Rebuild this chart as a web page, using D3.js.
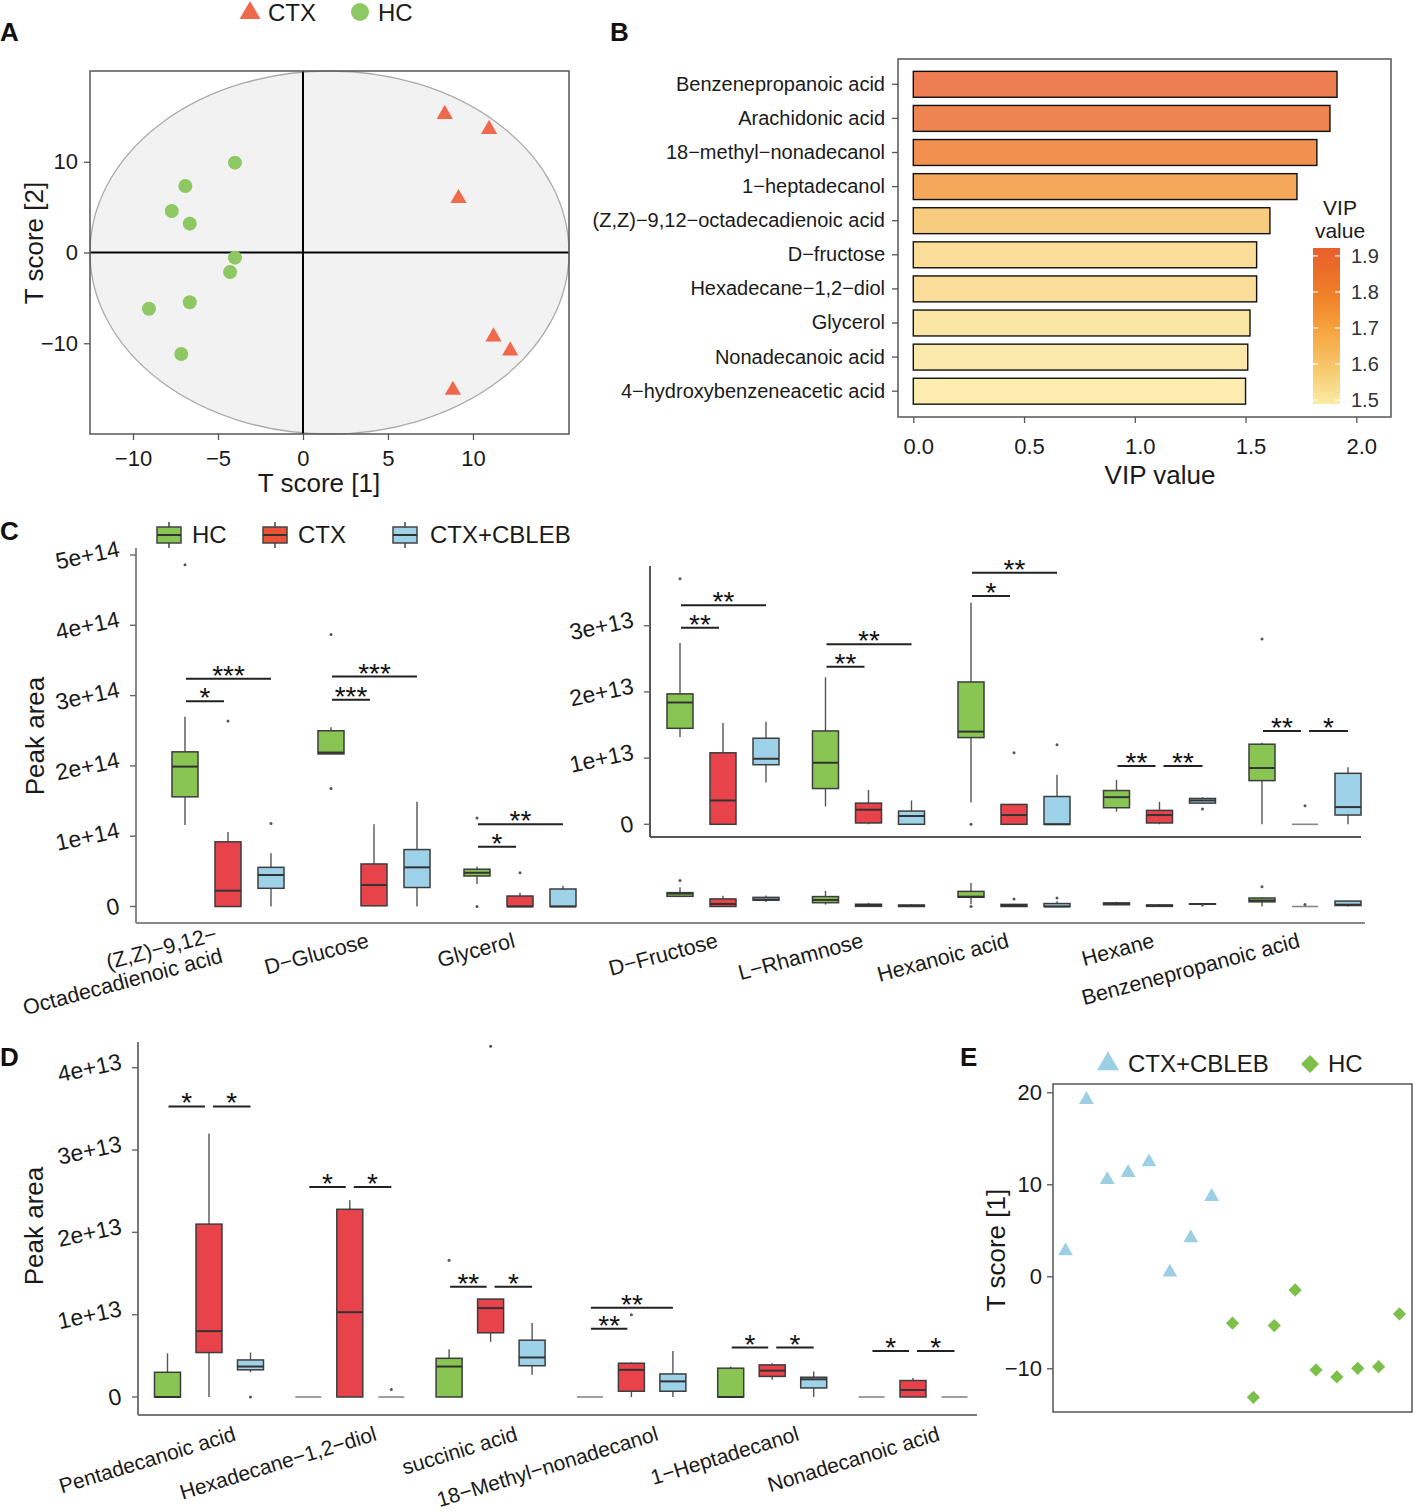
<!DOCTYPE html>
<html><head><meta charset="utf-8">
<script src="https://cdn.jsdelivr.net/npm/d3@7"></script>
<style>
body{margin:0;background:#fff;}
svg{font-family:"Liberation Sans",Arial,Helvetica,sans-serif;}
</style></head><body>
<svg id="chart" width="1414" height="1512"></svg>
<script>
// ---------------- Panel A : score plot ----------------
const aHC_x = [-4.0,-6.92,-7.72,-6.66,-4.0,-4.29,-6.66,-9.06,-7.16];
const aHC_y = [9.9,7.33,4.58,3.18,-0.57,-2.15,-5.49,-6.2,-11.19];
const aCTX_x = [8.34,10.95,9.15,11.21,12.19,8.82];
const aCTX_y = [15.24,13.58,5.97,-9.28,-10.83,-15.16];
const aEllipse = [1.56, 0, 14.09, 20];           // centre x, centre y, radius x, radius y
const aTicksX = [-10,-5,0,5,10];
const aTicksY = [-10,0,10];

// ---------------- Panel B : VIP ----------------
const vipNames = ["Benzenepropanoic acid","Arachidonic acid","18−methyl−nonadecanol","1−heptadecanol",
  "(Z,Z)−9,12−octadecadienoic acid","D−fructose","Hexadecane−1,2−diol","Glycerol","Nonadecanoic acid","4−hydroxybenzeneacetic acid"];
const vipValues = [1.913,1.881,1.822,1.732,1.61,1.55,1.55,1.52,1.51,1.50];
const vipTicks = [0,0.5,1.0,1.5,2.0];
const vipLegendTicks = [1.5,1.6,1.7,1.8,1.9];

// ---------------- Panel C : box plots ----------------
const groups = ["HC","CTX","CTX+CBLEB"];
const cLeftCats = ["(Z,Z)−9,12−\nOctadecadienoic acid","D−Glucose","Glycerol"];
// [lower whisker, Q1, median, Q3, upper whisker]  (x 1e14)
const cLeftHC    = [[1.16,1.56,1.99,2.20,2.70],[2.17,2.17,2.19,2.50,2.55],[0.32,0.434,0.48,0.53,0.566]];
const cLeftCTX   = [[0,0,0.225,0.92,1.06],[0,0.01,0.306,0.605,1.17],[0,0,0,0.149,0.196]];
const cLeftCBLEB = [[0,0.259,0.448,0.557,0.757],[0,0.27,0.557,0.81,1.49],[0,0,0,0.249,0.296]];
const cLeftOutliers = [[0,0,4.86],[0,1,2.64],[0,2,1.18],[1,0,3.87],[1,0,1.68],[2,0,1.26],[2,0,0],[2,1,0.48]];
const cLeftSig = [[0,0,1,2.92,"*"],[0,0,2,3.24,"***"],[1,0,1,2.94,"***"],[1,0,2,3.27,"***"],[2,0,1,0.85,"*"],[2,0,2,1.17,"**"]];
const cLeftTicks = [0,1,2,3,4,5];   // x 1e14

const cRightCats = ["D−Fructose","L−Rhamnose","Hexanoic acid","Hexane","Benzenepropanoic acid"];
// (x 1e13)
const cRightHC    = [[1.32,1.45,1.84,1.97,2.74],[0.27,0.54,0.93,1.41,2.22],[0.33,1.31,1.40,2.15,3.35],[0.19,0.25,0.41,0.51,0.67],[0,0.66,0.85,1.21,1.23]];
const cRightCTX   = [[0,0,0.36,1.08,1.53],[0,0.02,0.22,0.32,0.52],[0,0,0.14,0.30,0.30],[0,0.02,0.14,0.21,0.34],[0,0,0,0,0]];
const cRightCBLEB = [[0.63,0.90,0.99,1.30,1.55],[0,0,0.125,0.20,0.36],[0,0,0,0.42,0.75],[0.32,0.32,0.36,0.39,0.41],[0,0.14,0.26,0.77,0.86]];
const cRightOutliers = [[0,0,3.71],[2,0,0],[2,1,1.08],[2,2,1.20],[3,2,0.23],[4,0,2.80],[4,1,0.28]];
const cRightSig = [[0,0,1,2.97,"**"],[0,0,2,3.31,"**"],[1,0,1,2.38,"**"],[1,0,2,2.72,"**"],[2,0,1,3.45,"*"],[2,0,2,3.80,"**"],
  [3,0,1,0.88,"**"],[3,1,2,0.88,"**"],[4,0,1,1.41,"**"],[4,1,2,1.41,"*"]];
const cInsetTicks = [0,1,2,3];      // x 1e13

// ---------------- Panel D : box plots (x 1e13) ----------------
const dCats = ["Pentadecanoic acid","Hexadecane−1,2−diol","succinic acid","18−Methyl−nonadecanol","1−Heptadecanol","Nonadecanoic acid"];
const dHC    = [[0,0,0,0.30,0.53],[0,0,0,0,0],[0,0,0.37,0.47,0.58],[0,0,0,0,0],[0,0,0,0.35,0.37],[0,0,0,0,0]];
const dCTX   = [[0,0.54,0.80,2.10,3.20],[0,0,1.03,2.28,2.39],[0.67,0.78,1.08,1.19,1.19],[0,0.07,0.33,0.41,0.42],[0.21,0.25,0.32,0.39,0.41],[0,0,0.085,0.20,0.23]];
const dCBLEB = [[0.30,0.33,0.37,0.45,0.54],[0,0,0,0,0],[0.27,0.38,0.48,0.69,0.90],[0,0.07,0.19,0.28,0.56],[0,0.11,0.215,0.24,0.31],[0,0,0,0,0]];
const dOutliers = [[0,2,0],[1,2,0.09],[2,0,1.66],[2,1,4.26],[3,1,1.0]];
const dSig = [[0,0,1,3.53,"*"],[0,1,2,3.53,"*"],[1,0,1,2.55,"*"],[1,1,2,2.55,"*"],[2,0,1,1.34,"**"],[2,1,2,1.34,"*"],
  [3,0,1,0.83,"**"],[3,0,2,1.085,"**"],[4,0,1,0.60,"*"],[4,1,2,0.60,"*"],[5,0,1,0.56,"*"],[5,1,2,0.56,"*"]];
const dTicks = [0,1,2,3,4];

// ---------------- Panel E : score by sample ----------------
const eCBLEB = [2.75,19.2,10.5,11.27,12.43,0.43,4.17,8.66];
const eHC = [-5.1,-13.15,-5.36,-1.49,-10.18,-10.94,-10.0,-9.82,-4.09];
const eTicks = [-10,0,10,20];

// ================= drawing =================
const svg = d3.select("#chart");
const TXT = "#1a1a1a";
const minus = s => String(s).replace("-","−");
const boxFill = {"HC":"#88c553","CTX":"#e8434a","CTX+CBLEB":"#9dd2e8"};

function panelLabel(t,x,y){
  svg.append("text").attr("x",x).attr("y",y).attr("font-size",26).attr("font-weight","bold").attr("fill","#111").text(t);
}
function styleAxis(g, fs, col){
  g.select(".domain").remove();
  g.selectAll(".tick line").attr("stroke",col||"#555").attr("stroke-width",1.3);
  g.selectAll(".tick text").attr("font-size",fs).attr("fill",TXT).attr("font-family","Liberation Sans, Arial, sans-serif");
}

// ---------- A ----------
panelLabel("A",0,41);
const ax = d3.scaleLinear().domain([-12.53,15.65]).range([90,569]);
const ay = d3.scaleLinear().domain([-20,20]).range([434,71]);
const gA = svg.append("g");
gA.append("rect").attr("x",ax.range()[0]).attr("y",ay.range()[1]).attr("width",ax.range()[1]-ax.range()[0])
  .attr("height",ay.range()[0]-ay.range()[1]).attr("fill","#fff");
gA.append("ellipse").attr("cx",ax(aEllipse[0])).attr("cy",ay(aEllipse[1]))
  .attr("rx",ax(aEllipse[0]+aEllipse[2])-ax(aEllipse[0])).attr("ry",ay(aEllipse[1]-aEllipse[3])-ay(aEllipse[1]))
  .attr("fill","#f2f2f2").attr("stroke","#aaa").attr("stroke-width",1.3);
gA.append("line").attr("x1",ax(0)).attr("x2",ax(0)).attr("y1",ay.range()[0]).attr("y2",ay.range()[1]).attr("stroke","#000").attr("stroke-width",2);
gA.append("line").attr("y1",ay(0)).attr("y2",ay(0)).attr("x1",ax.range()[0]).attr("x2",ax.range()[1]).attr("stroke","#000").attr("stroke-width",2);
gA.append("rect").attr("x",ax.range()[0]).attr("y",ay.range()[1]).attr("width",ax.range()[1]-ax.range()[0])
  .attr("height",ay.range()[0]-ay.range()[1]).attr("fill","none").attr("stroke","#555").attr("stroke-width",1.5);
gA.selectAll("circle.hc").data(aHC_x).join("circle").attr("cx",d=>ax(d)).attr("cy",(d,i)=>ay(aHC_y[i])).attr("r",7).attr("fill","#8dc863");
gA.selectAll("path.ctx").data(aCTX_x).join("path").attr("d",d3.symbol(d3.symbolTriangle,115))
  .attr("transform",(d,i)=>`translate(${ax(d)},${ay(aCTX_y[i])})`).attr("fill","#ef6a4c");
const axA = gA.append("g").attr("transform",`translate(0,${ay.range()[0]})`).call(d3.axisBottom(ax).tickValues(aTicksX).tickSize(6).tickPadding(10).tickFormat(minus));
styleAxis(axA,22);
const ayA = gA.append("g").attr("transform",`translate(${ax.range()[0]},0)`).call(d3.axisLeft(ay).tickValues(aTicksY).tickSize(6).tickPadding(6).tickFormat(minus));
styleAxis(ayA,22);
gA.append("text").attr("x",319).attr("y",492).attr("text-anchor","middle").attr("font-size",26).attr("fill",TXT).text("T score [1]");
gA.append("text").attr("transform","translate(43,243) rotate(-90)").attr("text-anchor","middle").attr("font-size",26).attr("fill",TXT).text("T score [2]");
// legend A
gA.append("path").attr("d",d3.symbol(d3.symbolTriangle,190)).attr("transform","translate(250,13)").attr("fill","#ef6a4c");
gA.append("text").attr("x",268).attr("y",21).attr("font-size",24).attr("fill",TXT).text("CTX");
gA.append("circle").attr("cx",360).attr("cy",12).attr("r",9).attr("fill","#8dc863");
gA.append("text").attr("x",378).attr("y",21).attr("font-size",24).attr("fill",TXT).text("HC");

// ---------- B ----------
panelLabel("B",610,41);
const bx = d3.scaleLinear().domain([0,2]).range([913.3,1356.3]);
const by = d3.scaleBand().domain(vipNames).range([67.25,408.25]).paddingInner(0.24).paddingOuter(0.12);
const vipExt = d3.extent(vipValues);
const barExt = [vipExt[0]-0.011, vipExt[1]+0.009];
const vipColor = d3.scaleLinear().domain([1.49,1.6,1.7,1.8,1.92]).range(["#fbeba3","#f7c567","#f5a13c","#ef7d27","#e85f2c"]).clamp(true);
const gB = svg.append("g");
gB.append("rect").attr("x",898).attr("y",59).attr("width",493).attr("height",358).attr("fill","#fff").attr("stroke","#555").attr("stroke-width",1.5);
gB.selectAll("rect.bar").data(vipNames).join("rect").attr("x",bx(0)).attr("y",d=>by(d))
  .attr("width",(d,i)=>bx(vipValues[i])-bx(0)).attr("height",by.bandwidth())
  .attr("fill",(d,i)=>vipColor(vipValues[i])).attr("fill-opacity",0.82).attr("stroke","#111").attr("stroke-width",1.4);
const byAx = gB.append("g").attr("transform","translate(898,0)").call(d3.axisLeft(by).tickSize(6).tickPadding(7));
styleAxis(byAx,20);
const bxAx = gB.append("g").attr("transform","translate(0,417)").call(d3.axisBottom(bx).tickValues(vipTicks).tickSize(6).tickPadding(15).tickFormat(d3.format(".1f")));
styleAxis(bxAx,22);
bxAx.selectAll(".tick text").attr("dx",5);
gB.append("text").attr("x",1160).attr("y",484).attr("text-anchor","middle").attr("font-size",26).attr("fill",TXT).text("VIP value");
// colour bar
const cby = d3.scaleLinear().domain(barExt).range([404,248]);
const defs = svg.append("defs");
const grad = defs.append("linearGradient").attr("id","vipgrad").attr("x1",0).attr("y1",1).attr("x2",0).attr("y2",0);
d3.range(0,1.0001,0.1).forEach(t=>{
  const v = barExt[0]+t*(barExt[1]-barExt[0]);
  grad.append("stop").attr("offset",t).attr("stop-color",vipColor(v));
});
gB.append("rect").attr("x",1313).attr("y",cby(barExt[1])).attr("width",27).attr("height",cby(barExt[0])-cby(barExt[1])).attr("fill","url(#vipgrad)");
vipLegendTicks.forEach(t=>{
  gB.append("line").attr("x1",1313).attr("x2",1318).attr("y1",cby(t)).attr("y2",cby(t)).attr("stroke","#fff").attr("stroke-width",1.2);
  gB.append("line").attr("x1",1335).attr("x2",1340).attr("y1",cby(t)).attr("y2",cby(t)).attr("stroke","#fff").attr("stroke-width",1.2);
  gB.append("text").attr("x",1351).attr("y",cby(t)+7).attr("font-size",20).attr("fill","#333").text(t.toFixed(1));
});
gB.append("text").attr("x",1340).attr("y",215).attr("text-anchor","middle").attr("font-size",21).attr("fill",TXT).text("VIP");
gB.append("text").attr("x",1340).attr("y",238).attr("text-anchor","middle").attr("font-size",21).attr("fill",TXT).text("value");

// ---------- shared box-plot helpers ----------
function drawBoxes(g, cats, xs, off, yFn, statsList, outliers, bw){
  groups.forEach((grp,gi)=>{
    statsList[gi].forEach((s,ci)=>{
      const cx = xs(cats[ci]) + off(grp);
      const [lw,q1,md,q3,uw] = s;
      g.append("line").attr("x1",cx).attr("x2",cx).attr("y1",yFn(uw)).attr("y2",yFn(q3)).attr("stroke","#555").attr("stroke-width",1.4);
      g.append("line").attr("x1",cx).attr("x2",cx).attr("y1",yFn(q1)).attr("y2",yFn(lw)).attr("stroke","#555").attr("stroke-width",1.4);
      if (q3 > q1) {
        g.append("rect").attr("x",cx-bw/2).attr("y",yFn(q3)).attr("width",bw).attr("height",Math.max(0.5,yFn(q1)-yFn(q3)))
          .attr("fill",boxFill[grp]).attr("stroke","#3d3d3d").attr("stroke-width",1.5);
        g.append("line").attr("x1",cx-bw/2).attr("x2",cx+bw/2).attr("y1",yFn(md)).attr("y2",yFn(md)).attr("stroke","#333").attr("stroke-width",2);
      } else {
        g.append("line").attr("x1",cx-bw/2).attr("x2",cx+bw/2).attr("y1",yFn(md)).attr("y2",yFn(md)).attr("stroke","#888").attr("stroke-width",1.6);
      }
    });
  });
  outliers.forEach(([ci,gi,v])=>{
    g.append("circle").attr("cx",xs(cats[ci])+off(groups[gi])).attr("cy",yFn(v)).attr("r",1.5).attr("fill","#555");
  });
}
function drawSig(g, cats, xs, off, yFn, sig){
  sig.forEach(([ci,a,b,v,lab])=>{
    const c = xs(cats[ci]);
    const xa = c + off(groups[a]) + (a===1?4:1);
    const xb = c + off(groups[b]) + (b===1?-4:0);
    const y = yFn(v);
    g.append("line").attr("x1",xa).attr("x2",xb).attr("y1",y).attr("y2",y).attr("stroke","#222").attr("stroke-width",2);
    g.append("text").attr("x",(xa+xb)/2).attr("y",y+6).attr("text-anchor","middle").attr("font-size",28).attr("fill","#111").text(lab);
  });
}
function yTickLabels(g, ticks, yFn, axisX, fmt, fs){
  const ang = 12, rad = ang*Math.PI/180;
  ticks.forEach(t=>{
    g.append("line").attr("x1",axisX-6).attr("x2",axisX).attr("y1",yFn(t)).attr("y2",yFn(t)).attr("stroke","#666").attr("stroke-width",1.4);
    const tx = g.append("text").attr("dy","0.35em").attr("text-anchor","middle").attr("font-size",fs).attr("fill",TXT).text(fmt(t));
    const w = tx.node().getComputedTextLength();
    tx.attr("transform",`translate(${axisX-17-w/2*Math.cos(rad)},${yFn(t)}) rotate(${-ang})`);
  });
}
function xLabels(g, cats, xs, dx, y, angle, fs){
  cats.forEach(c=>{
    const lines = c.split("\n");
    const n = lines.length;
    const t = g.append("text").attr("transform",`translate(${xs(c)+dx},${y}) rotate(${angle})`)
      .attr("text-anchor","end").attr("font-size",fs).attr("fill",TXT);
    lines.forEach((ln,i)=>{
      t.append("tspan").attr("x",-(n-1)*4).attr("y",-(n-1)*8 + i*(fs*1.05)).text(ln);
    });
  });
}
const boxSets = (a,b,c)=>[a,b,c];

// ---------- C ----------
panelLabel("C",0,540);
const gC = svg.append("g");
const cyL = d3.scaleLinear().domain([0,5]).range([906.5,555]);        // x 1e14
const cyIn = d3.scaleLinear().domain([0,3]).range([824.3,625.7]);    // x 1e13
const cxL = d3.scalePoint().domain(cLeftCats).range([228,520]);
const cxR = d3.scalePoint().domain(cRightCats).range([723,1305]);
const cOff = d3.scalePoint().domain(groups).range([-43,43]);
// main axes
gC.append("line").attr("x1",136).attr("x2",136).attr("y1",548).attr("y2",923).attr("stroke","#888").attr("stroke-width",2);
gC.append("line").attr("x1",136).attr("x2",1365).attr("y1",923).attr("y2",923).attr("stroke","#888").attr("stroke-width",2);
yTickLabels(gC, cLeftTicks, cyL, 136, t=>t===0?"0":t+"e+14", 23);
drawBoxes(gC, cLeftCats, cxL, cOff, cyL, boxSets(cLeftHC,cLeftCTX,cLeftCBLEB), cLeftOutliers, 26);
drawBoxes(gC, cRightCats, cxR, cOff, v=>cyL(v/10), boxSets(cRightHC,cRightCTX,cRightCBLEB), cRightOutliers, 26);
drawSig(gC, cLeftCats, cxL, cOff, cyL, cLeftSig);
xLabels(gC, cLeftCats, cxL, -4, 947, -15, 21.5);
xLabels(gC, cRightCats, cxR, -4, 947, -15, 21.5);
// inset
gC.append("line").attr("x1",650).attr("x2",650).attr("y1",566).attr("y2",837).attr("stroke","#555").attr("stroke-width",2);
gC.append("line").attr("x1",650).attr("x2",1361).attr("y1",837).attr("y2",837).attr("stroke","#555").attr("stroke-width",2);
yTickLabels(gC, cInsetTicks, cyIn, 650, t=>t===0?"0":t+"e+13", 23);
drawBoxes(gC, cRightCats, cxR, cOff, cyIn, boxSets(cRightHC,cRightCTX,cRightCBLEB), cRightOutliers, 26);
drawSig(gC, cRightCats, cxR, cOff, cyIn, cRightSig);
gC.append("text").attr("transform","translate(44,736) rotate(-90)").attr("text-anchor","middle").attr("font-size",26).attr("fill",TXT).text("Peak area");
// legend C
[[157,"HC",192],[263,"CTX",298],[393,"CTX+CBLEB",430]].forEach(([x,lab,tx],i)=>{
  const col = i===1 ? "#eb5236" : boxFill[lab];
  gC.append("line").attr("x1",x+12).attr("x2",x+12).attr("y1",522).attr("y2",548).attr("stroke","#444").attr("stroke-width",1.5);
  gC.append("rect").attr("x",x).attr("y",527).attr("width",24).attr("height",16).attr("fill",col).attr("stroke","#444").attr("stroke-width",1.5);
  gC.append("line").attr("x1",x).attr("x2",x+24).attr("y1",535).attr("y2",535).attr("stroke","#333").attr("stroke-width",2);
  gC.append("text").attr("x",tx).attr("y",543).attr("font-size",24).attr("fill",TXT).text(lab);
});

// ---------- D ----------
panelLabel("D",0,1066);
const gD = svg.append("g");
const dy = d3.scaleLinear().domain([0,4]).range([1397,1067.7]);
const dx = d3.scalePoint().domain(dCats).range([209,913]);
const dOff = d3.scalePoint().domain(groups).range([-41.5,41.5]);
gD.append("line").attr("x1",138).attr("x2",138).attr("y1",1042).attr("y2",1415).attr("stroke","#777").attr("stroke-width",2);
gD.append("line").attr("x1",138).attr("x2",977).attr("y1",1415).attr("y2",1415).attr("stroke","#777").attr("stroke-width",2);
yTickLabels(gD, dTicks, dy, 138, t=>t===0?"0":t+"e+13", 23);
drawBoxes(gD, dCats, dx, dOff, dy, boxSets(dHC,dCTX,dCBLEB), dOutliers, 26);
drawSig(gD, dCats, dx, dOff, dy, dSig);
xLabels(gD, dCats, dx, 28, 1440, -17, 21);
gD.append("text").attr("transform","translate(43,1226) rotate(-90)").attr("text-anchor","middle").attr("font-size",26).attr("fill",TXT).text("Peak area");

// ---------- E ----------
panelLabel("E",960,1066);
const gE = svg.append("g");
const ex = d3.scaleLinear().domain([0.4,17.6]).range([1053,1412]);
const ey = d3.scaleLinear().domain([-14.75,20.9]).range([1412,1084]);
gE.append("rect").attr("x",1053).attr("y",1084).attr("width",359).attr("height",328).attr("fill","#fff").attr("stroke","#555").attr("stroke-width",1.5);
gE.selectAll("path.cb").data(eCBLEB).join("path").attr("d",d3.symbol(d3.symbolTriangle,95))
  .attr("transform",(d,i)=>`translate(${ex(i+1)},${ey(d)})`).attr("fill","#9ccfe3");
gE.selectAll("path.hc").data(eHC).join("path").attr("d",d3.symbol(d3.symbolSquare,88))
  .attr("transform",(d,i)=>`translate(${ex(eCBLEB.length+i+1)},${ey(d)}) rotate(45)`).attr("fill","#7cc04a");
const eyAx = gE.append("g").attr("transform","translate(1053,0)").call(d3.axisLeft(ey).tickValues(eTicks).tickSize(6).tickPadding(5).tickFormat(minus));
styleAxis(eyAx,22);
gE.append("text").attr("transform","translate(1005,1250) rotate(-90)").attr("text-anchor","middle").attr("font-size",26).attr("fill",TXT).text("T score [1]");
gE.append("path").attr("d",d3.symbol(d3.symbolTriangle,210)).attr("transform","translate(1108,1064)").attr("fill","#9ccfe3");
gE.append("text").attr("x",1128).attr("y",1072).attr("font-size",24).attr("fill",TXT).text("CTX+CBLEB");
gE.append("path").attr("d",d3.symbol(d3.symbolSquare,160)).attr("transform","translate(1310,1064) rotate(45)").attr("fill","#7cc04a");
gE.append("text").attr("x",1328).attr("y",1072).attr("font-size",24).attr("fill",TXT).text("HC");
</script>
</body></html>
